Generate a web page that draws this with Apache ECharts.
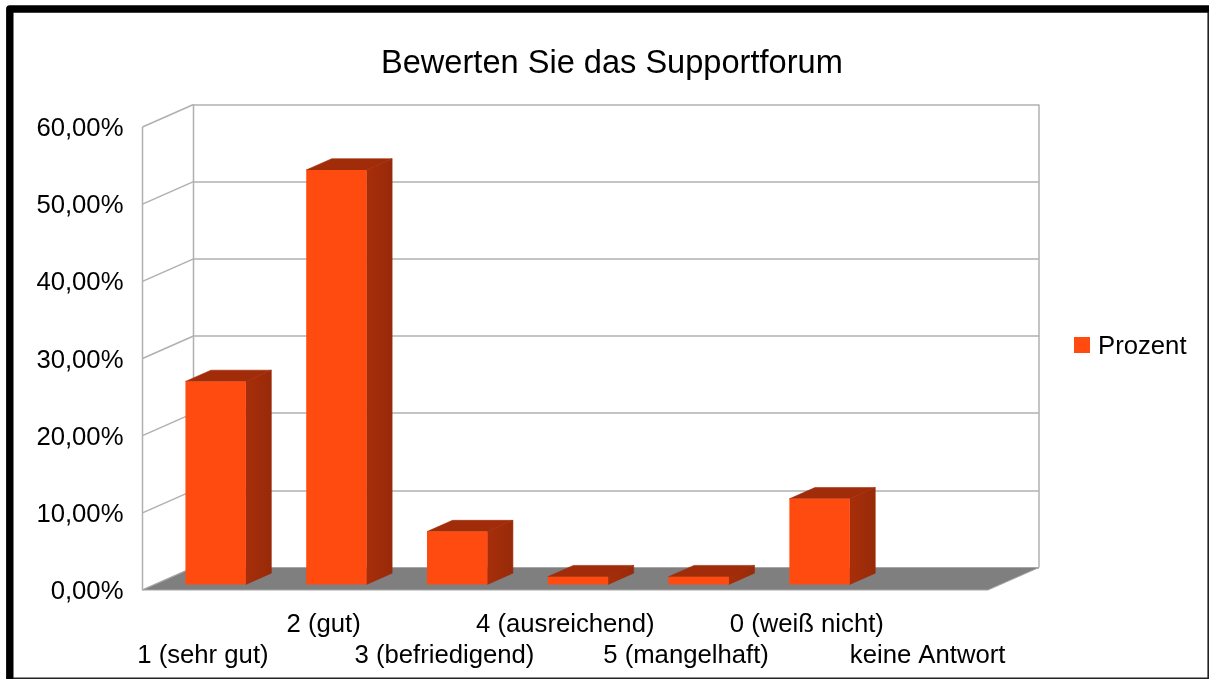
<!DOCTYPE html>
<html>
<head>
<meta charset="utf-8">
<style>html,body{margin:0;padding:0;background:#fff}#c{width:1209px;height:679px}</style>
<script src="https://cdn.jsdelivr.net/npm/echarts@6/dist/echarts.min.js"></script>
</head>
<body>
<div id="c"></div>
<script>
var titleText = 'Bewerten Sie das Supportforum';
var seriesName = 'Prozent';
var categories = ['1 (sehr gut)', '2 (gut)', '3 (befriedigend)', '4 (ausreichend)', '5 (mangelhaft)', '0 (weiß nicht)', 'keine Antwort'];
var values = [26.3, 53.7, 6.84, 1.0, 1.0, 11.08, 0];
var yTicks = [0, 10, 20, 30, 40, 50, 60];

var FONT = '"Liberation Sans", Arial, sans-serif';
var LABEL = 25.7;
var DX = 51, DY = 22.5;            // depth of the 3D box
var FRONT = '#ff4a10', TOP = '#a02c0a', FLOOR = '#7f7f7f', WALL = '#b0b0b0';
var SIDE = new echarts.graphic.LinearGradient(0,0,1,0,[{offset:0,color:'#a82e0a'},{offset:1,color:'#972a09'}]);
var GL = 142.5, GT = 127, GW = 845.5, GH = 463;

function pct(v){ return '{s| }\n{a|' + v.toFixed(2).replace('.', ',') + '%}'; }
var richLabel = {s:{fontSize:4,lineHeight:4},a:{fontFamily:FONT,fontSize:LABEL,color:'#000',lineHeight:30}};

var chart = echarts.init(document.getElementById('c'), null, {renderer:'canvas'});
chart.setOption({
  animation:false,
  backgroundColor:'#fff',
  title:{text:titleText,left:376,top:43,
    textStyle:{fontFamily:FONT,fontSize:32.6,fontWeight:'normal',color:'#000'}},
  legend:{data:[{name:seriesName,icon:'rect'}],left:1074,top:328,padding:0,itemWidth:16,itemHeight:16,itemGap:8,
    selectedMode:false,formatter:function(n){return '{s| }\n{a|'+n+'}';},
    textStyle:{fontFamily:FONT,fontSize:LABEL,color:'#000',padding:[0,0,0,3],rich:richLabel}},
  grid:[
    {left:GL,top:GT,width:GW,height:GH},
    {left:GL+DX,top:GT-DY,width:GW,height:GH}
  ],
  xAxis:[
    {gridIndex:0,type:'category',data:categories,
      axisLine:{show:false},axisTick:{show:false},
      axisLabel:{interval:0,hideOverlap:false,margin:19,lineHeight:31,fontFamily:FONT,fontSize:LABEL,color:'#000',
        formatter:function(v,i){ return i%2===1 ? v+'\n ' : ' \n'+v; }}},
    {gridIndex:1,type:'category',data:categories,
      axisLine:{show:false},axisTick:{show:false},axisLabel:{show:false}}
  ],
  yAxis:[
    {gridIndex:0,type:'value',min:0,max:60,interval:10,
      axisLine:{show:false},axisTick:{show:false},splitLine:{show:false},
      axisLabel:{margin:19,fontFamily:FONT,fontSize:LABEL,color:'#000',formatter:pct,rich:richLabel}},
    {gridIndex:1,type:'value',min:0,max:60,interval:10,
      axisLine:{show:false},axisTick:{show:false},axisLabel:{show:false},
      splitLine:{show:true,lineStyle:{color:WALL,width:1.5}}}
  ],
  series:[
    { // walls: left wall diagonals and verticals, floor
      type:'custom',xAxisIndex:0,yAxisIndex:0,silent:true,z:1,
      data:yTicks.map(function(t){return [0,t];}),
      renderItem:function(params,api){
        var cs=params.coordSys, y=api.coord([0,api.value(1)])[1], kids=[];
        var line={stroke:WALL,lineWidth:1.5,fill:null};
        kids.push({type:'line',shape:{x1:cs.x,y1:y,x2:cs.x+DX,y2:y-DY},style:line});
        if(params.dataIndex===0){
          kids.push({type:'polygon',shape:{points:[[cs.x,y],[cs.x+DX,y-DY],[cs.x+cs.width+DX,y-DY],[cs.x+cs.width,y]]},
            style:{fill:FLOOR,stroke:'#a6a6a6',lineWidth:1}});
          kids.push({type:'line',shape:{x1:cs.x,y1:cs.y,x2:cs.x,y2:cs.y+cs.height},style:line});
          kids.push({type:'line',shape:{x1:cs.x+DX,y1:cs.y-DY,x2:cs.x+DX,y2:cs.y+cs.height-DY},style:line});
          kids.push({type:'line',shape:{x1:cs.x+cs.width+DX,y1:cs.y-DY,x2:cs.x+cs.width+DX,y2:cs.y+cs.height-DY},style:line});
        }
        return {type:'group',children:kids};
      }
    },
    { // 3D bars, half a category wide, standing in the middle of the floor's depth
      type:'custom',name:seriesName,xAxisIndex:0,yAxisIndex:0,z:3,
      itemStyle:{color:FRONT},
      data:values.map(function(v,i){return [i,v];}),
      renderItem:function(params,api){
        var v=api.value(1);
        if(!v) return {type:'group',children:[]};
        var c=api.coord([api.value(0),v]), b=api.coord([api.value(0),0]);
        var w=api.size([1,0])[0]/2;
        var ox=DX/4, oy=-DY/4, hx=DX/2, hy=-DY/2;
        var l=c[0]-w/2+ox, r=l+w, t=c[1]+oy, bt=b[1]+oy;
        return {type:'group',children:[
          {type:'polygon',shape:{points:[[r,bt],[r+hx,bt+hy],[r+hx,t+hy],[r,t]]},style:{fill:SIDE,stroke:TOP,lineWidth:0.6}},
          {type:'polygon',shape:{points:[[l,t],[l+hx,t+hy],[r+hx,t+hy],[r,t]]},style:{fill:TOP,stroke:TOP,lineWidth:0.6}},
          {type:'rect',shape:{x:l,y:t,width:w,height:bt-t},style:{fill:FRONT}}
        ]};
      }
    }
  ],
  graphic:[
    {type:'polyline',z:10,silent:true,shape:{points:[[9.8,679],[9.8,9],[1209,9]]},style:{stroke:'#000',lineWidth:7.4,fill:null,lineJoin:'round'}},
    {type:'polyline',z:10,silent:true,shape:{points:[[13,678.2],[1208.2,678.2],[1208.2,12]]},style:{stroke:'#222',lineWidth:1.6,fill:null}}
  ]
});
</script>
</body>
</html>
